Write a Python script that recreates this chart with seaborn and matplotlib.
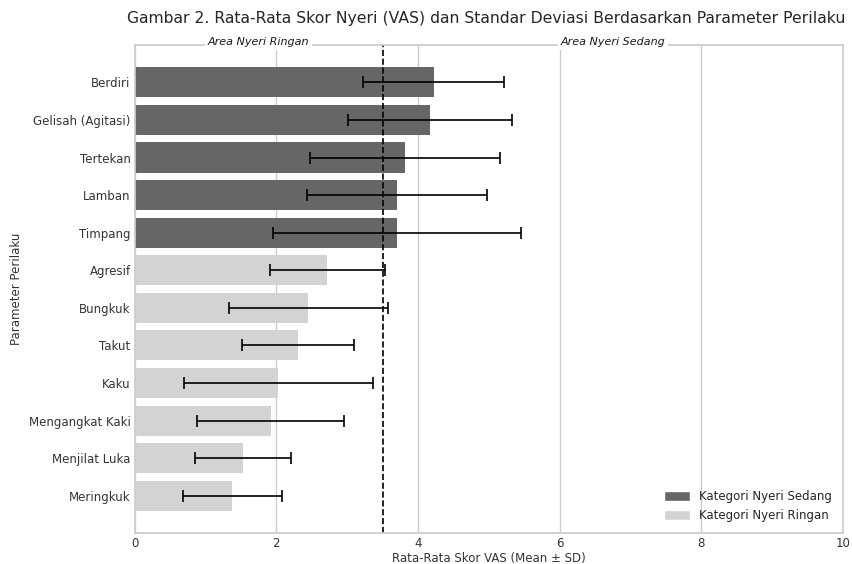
import matplotlib
matplotlib.use("Agg")
import matplotlib.pyplot as plt
import matplotlib.transforms as mtransforms
import seaborn as sns
import pandas as pd
from matplotlib.patches import Patch

params = ["Berdiri", "Gelisah (Agitasi)", "Tertekan", "Lamban", "Timpang",
          "Agresif", "Bungkuk", "Takut", "Kaku", "Mengangkat Kaki",
          "Menjilat Luka", "Meringkuk"]
means = [4.22, 4.17, 3.82, 3.70, 3.70, 2.72, 2.45, 2.30, 2.03, 1.92, 1.53, 1.38]
sds = [1.00, 1.16, 1.34, 1.27, 1.75, 0.81, 1.12, 0.79, 1.33, 1.04, 0.68, 0.70]
threshold = 3.5
cat_labels = ["Kategori Nyeri Sedang", "Kategori Nyeri Ringan"]
cat_colors = ["#666666", "#d3d3d3"]

df = pd.DataFrame({"param": params, "mean": means, "sd": sds})
df["kat"] = [cat_labels[0] if m >= threshold else cat_labels[1] for m in means]

sns.set_theme(style="whitegrid")
plt.rcParams["font.family"] = ["DejaVu Sans"]

fig, ax = plt.subplots(figsize=(8.53, 5.64), dpi=100)
fig.subplots_adjust(left=0.158, right=0.988, top=0.920, bottom=0.055)

sns.barplot(data=df, y="param", x="mean", hue="kat", order=params,
            palette=dict(zip(cat_labels, cat_colors)), dodge=False,
            width=0.8, ax=ax, legend=False, edgecolor="none")
ax.errorbar(df["mean"], range(len(params)), xerr=df["sd"], fmt="none",
            ecolor="black", elinewidth=1.2, capsize=4, capthick=1.2)
ax.axvline(threshold, color="black", linestyle="--", linewidth=1.2)

ax.set_xlim(0, 10)
ax.set_ylim(len(params) - 1 + 0.99, -0.99)
ax.tick_params(axis="both", labelsize=8.5, colors="0.2", length=0, pad=3)
ax.set_xlabel("Rata-Rata Skor VAS (Mean ± SD)", fontsize=8.5, labelpad=1, color="0.2")
ax.set_ylabel("Parameter Perilaku", fontsize=8.5, color="0.2")
ax.set_title("Gambar 2. Rata-Rata Skor Nyeri (VAS) dan Standar Deviasi Berdasarkan Parameter Perilaku",
             fontsize=11.25, pad=16, color="0.15", x=0.497)

offset = mtransforms.offset_copy(ax.get_xaxis_transform(), fig=fig, x=0, y=2.2, units="points")
for xpos, txt in [(threshold / 2, "Area Nyeri Ringan"), ((threshold + 10) / 2, "Area Nyeri Sedang")]:
    ax.text(xpos, 1.0, txt, ha="center", va="center", fontsize=8, style="italic",
            color="0.1", transform=offset,
            bbox=dict(facecolor="white", edgecolor="none", pad=2))

handles = [Patch(facecolor=c, label=l) for c, l in zip(cat_colors, cat_labels)]
ax.legend(handles=handles, loc="lower right", fontsize=8.5, frameon=False,
          handleheight=0.9, handlelength=2.2)

fig.savefig("out.png", dpi=100)
